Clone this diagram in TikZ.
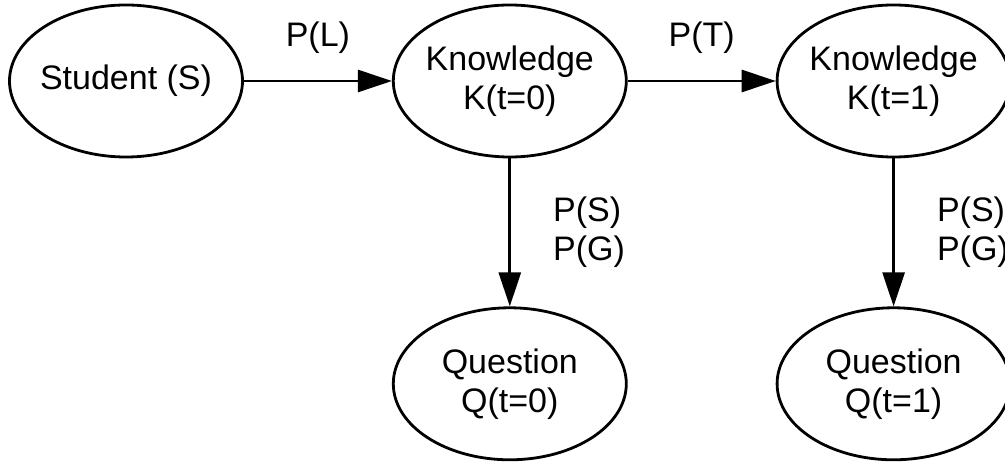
\documentclass[tikz,border=0pt]{standalone}
\usepackage{fontspec}
\setmainfont{Liberation Sans}
\usetikzlibrary{arrows.meta,positioning,shapes.geometric}

\begin{document}
\begin{tikzpicture}[x=1pt,y=1pt,->,>={Triangle[length=34pt,width=22pt]},line width=2.8pt,node distance=148pt,
  every node/.style={font=\fontsize{34}{39}\selectfont},
  var/.style={ellipse,draw,minimum width=233pt,minimum height=152pt,inner xsep=-20pt,inner ysep=0pt,align=center},
  prob/.style={inner sep=0pt,align=left}]
  \useasboundingbox (0,0) rectangle (1005,468);
  \node[var] (S) at (126,387) {Student (S)};
  \node[var] (K0) [right=of S] {Knowledge\\K(t=0)};
  \node[var] (K1) [right=of K0] {Knowledge\\K(t=1)};
  \node[var] (Q0) [below=of K0] {Question\\Q(t=0)};
  \node[var] (Q1) [below=of K1] {Question\\Q(t=1)};
  \path (S) edge node[prob,above=26pt] {P(L)} (K0)
  (K0) edge node[prob,above=26pt] {P(T)} (K1)
  (K0) edge node[prob,right=42pt] {P(S)\\P(G)} (Q0)
  (K1) edge node[prob,right=42pt] {P(S)\\P(G)} (Q1)
  ;
\end{tikzpicture}
\end{document}
